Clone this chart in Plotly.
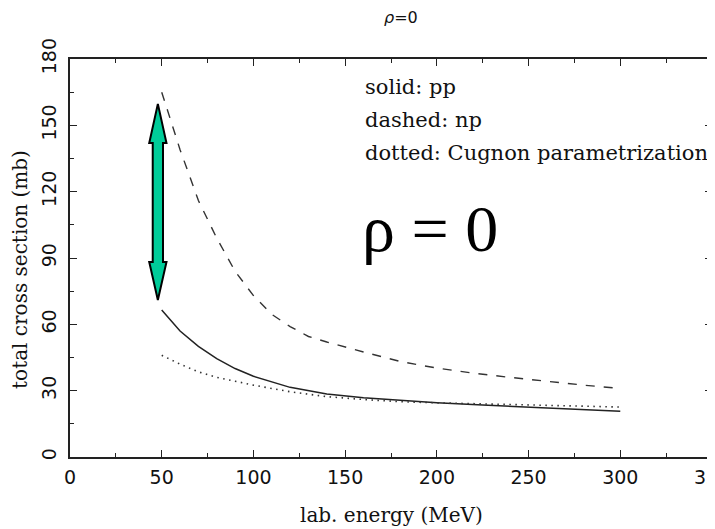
import plotly.graph_objects as go

# ---- data ----
energy_pp = [50, 60, 70, 80, 90, 100, 120, 140, 160, 180, 200, 225, 250, 275, 300]
sigma_pp = [66.5, 57.0, 50.0, 44.5, 40.0, 36.5, 31.5, 28.5, 26.8, 25.5, 24.5, 23.5, 22.5, 21.5, 20.7]

energy_np = [50, 60, 70, 80, 90, 100, 110, 120, 130, 140, 160, 180, 200, 220, 240, 260, 280, 300]
sigma_np = [165, 139, 116, 99, 84, 73, 64.5, 59, 54.5, 52, 47.5, 43.2, 40.2, 37.9, 36, 34.1, 32.5, 31]

energy_cug = [50, 60, 70, 80, 90, 100, 120, 140, 160, 180, 200, 225, 250, 275, 300]
sigma_cug = [46, 42, 38.5, 36, 34.3, 32.5, 29.5, 27.3, 26, 25, 24.5, 24, 23.5, 23, 22.6]

x_ticks = [0, 50, 100, 150, 200, 250, 300, 350]
y_ticks = [0, 30, 60, 90, 120, 150, 180]

# page places the figure 8px in from the top-left corner
W, H = 715, 529
L, R, T, B = 62, 11, 51, 80

fig = go.Figure()
fig.add_trace(go.Scatter(x=energy_np, y=sigma_np, mode="lines",
                         line=dict(color="#333333", width=1.4, dash="9px,9px"),
                         showlegend=False))
fig.add_trace(go.Scatter(x=energy_pp, y=sigma_pp, mode="lines",
                         line=dict(color="#222222", width=1.5), showlegend=False))
fig.add_trace(go.Scatter(x=energy_cug, y=sigma_cug, mode="lines",
                         line=dict(color="#333333", width=1.6, dash="1.5px,4.5px"),
                         showlegend=False))

# green double arrow (data coords)
ax, half_shaft, half_head = 47.9, 2.8, 4.7
y_top, y_tophead, y_bothead, y_bot = 159.7, 142.0, 88.2, 71.0
path = (f"M {ax},{y_top} L {ax+half_head},{y_tophead} L {ax+half_shaft},{y_tophead} "
        f"L {ax+half_shaft},{y_bothead} L {ax+half_head},{y_bothead} L {ax},{y_bot} "
        f"L {ax-half_head},{y_bothead} L {ax-half_shaft},{y_bothead} L {ax-half_shaft},{y_tophead} "
        f"L {ax-half_head},{y_tophead} Z")
fig.add_shape(type="path", path=path, xref="x", yref="y",
              fillcolor="#00CC99", line=dict(color="black", width=2))

serif = "DejaVu Serif"
for txt, yy in zip(["solid: pp", "dashed: np", "dotted: Cugnon parametrization"],
                   [0.93, 0.847, 0.764]):
    fig.add_annotation(x=160, y=yy, xref="x", yref="paper", text=txt,
                       showarrow=False, xanchor="left", yanchor="middle",
                       font=dict(family=serif, size=21, color="#111111"))

fig.add_annotation(x=0.56, y=0.575, xref="paper", yref="paper", text="ρ = 0",
                   showarrow=False, xanchor="center", yanchor="middle",
                   font=dict(family="Liberation Serif", size=66, color="black"))

fig.add_annotation(x=0.5, y=0, xref="paper", yref="paper", text="lab. energy (MeV)",
                   showarrow=False, xanchor="center", yanchor="middle", yshift=-58,
                   font=dict(family=serif, size=20, color="#111111"))
fig.add_annotation(x=0, y=0.47, xref="paper", yref="paper", text="total cross section (mb)",
                   showarrow=False, xanchor="center", yanchor="middle", xshift=-50,
                   textangle=-90, font=dict(family=serif, size=20, color="#111111"))
fig.add_annotation(x=0.515, y=1, xref="paper", yref="paper", text="<i>ρ</i>=0",
                   showarrow=False, xanchor="center", yanchor="middle", yshift=42,
                   font=dict(family="DejaVu Sans", size=16, color="#111111"))

axis_common = dict(showgrid=False, zeroline=False, showline=True, linecolor="#222222",
                   linewidth=1.5, ticks="inside", ticklen=7, tickwidth=1.3,
                   tickcolor="#222222", mirror="allticks", automargin=False,
                   ticklabeloverflow="allow",
                   tickfont=dict(family="DejaVu Sans", size=19, color="#111111"))
fig.update_xaxes(range=[0, 350.001], tickvals=x_ticks, ticklabelstandoff=2,
                 minor=dict(dtick=25, ticks="inside", ticklen=4, tickcolor="#222222"),
                 **axis_common)
fig.update_yaxes(range=[0, 180], tickvals=y_ticks, tickangle=-90, ticklabelstandoff=5,
                 minor=dict(dtick=15, ticks="inside", ticklen=4, tickcolor="#222222"),
                 **axis_common)

fig.update_layout(width=W, height=H, margin=dict(l=L, r=R, t=T, b=B),
                  paper_bgcolor="white", plot_bgcolor="white")
fig.write_html("out.html")
